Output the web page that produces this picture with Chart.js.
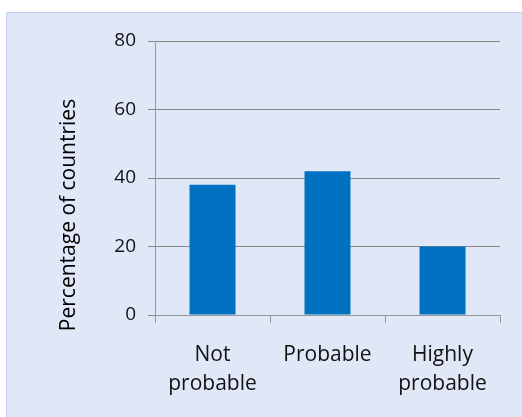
<!DOCTYPE html>
<html>
<head>
<meta charset="utf-8">
<script src="https://cdn.jsdelivr.net/npm/chart.js@4.4.1/dist/chart.umd.min.js"></script>
<style>
  html, body { margin: 0; padding: 0; background: #fff; }
  #panel {
    position: absolute; left: 6px; top: 12px; width: 516px; height: 405px;
    box-sizing: border-box; background: #E0E8F8;
    border-top: 1px solid #C9CDF5; border-left: 1px solid #C9CDF5;
  }
  #wrap { position: relative; width: 515px; height: 404px; }
</style>
</head>
<body>
<div id="panel"><div id="wrap"><canvas id="barChart"></canvas></div></div>
<script>
const categories = [['Not', 'probable'], 'Probable', ['Highly', 'probable']];
const percentages = [38, 42, 20];
const yTicks = [0, 20, 40, 60, 80];
const yTitle = 'Percentage of countries';

const fontFamily = "'Open Sans', sans-serif";

// y axis title drawn beside the plot, a bit below centre like the original
const yTitlePlugin = {
    id: 'yTitle',
    afterDraw(chart) {
        const area = chart.chartArea;
        const c = chart.ctx;
        c.save();
        c.translate(area.left - 86, (area.top + area.bottom) / 2 + 37);
        c.rotate(-Math.PI / 2);
        c.font = '21px ' + fontFamily;
        c.fillStyle = '#000';
        c.textAlign = 'center';
        c.textBaseline = 'middle';
        c.fillText(yTitle, 0, 0);
        c.restore();
    }
};

const ctx = document.getElementById('barChart').getContext('2d');
const chart = new Chart(ctx, {
    type: 'bar',
    data: {
        labels: categories,
        datasets: [{
            label: yTitle,
            data: percentages,
            backgroundColor: '#0070C0',
            borderWidth: 0,
            barPercentage: 0.4,
            categoryPercentage: 1
        }]
    },
    options: {
        responsive: true,
        maintainAspectRatio: false,
        animation: false,
        layout: { padding: { top: 28, right: 22, left: 0, bottom: 0 } },
        plugins: {
            legend: { display: false },
            tooltip: { enabled: false }
        },
        scales: {
            x: {
                afterFit: s => { s.height = 102; },
                grid: { drawOnChartArea: false, tickLength: 8, color: '#999' },
                border: { color: '#999' },
                ticks: {
                    color: '#111',
                    padding: 18,
                    maxRotation: 0,
                    font: { family: fontFamily, size: 21, lineHeight: 1.38 }
                }
            },
            y: {
                min: 0,
                max: 80,
                afterFit: s => { s.width = 148; },
                afterBuildTicks: s => { s.ticks = yTicks.map(v => ({ value: v })); },
                grid: { color: '#888', tickLength: 7 },
                border: { color: '#999' },
                ticks: {
                    color: '#111',
                    padding: 12,
                    font: { family: fontFamily, size: 19 }
                }
            }
        }
    },
    plugins: [yTitlePlugin]
});
</script>
</body>
</html>
